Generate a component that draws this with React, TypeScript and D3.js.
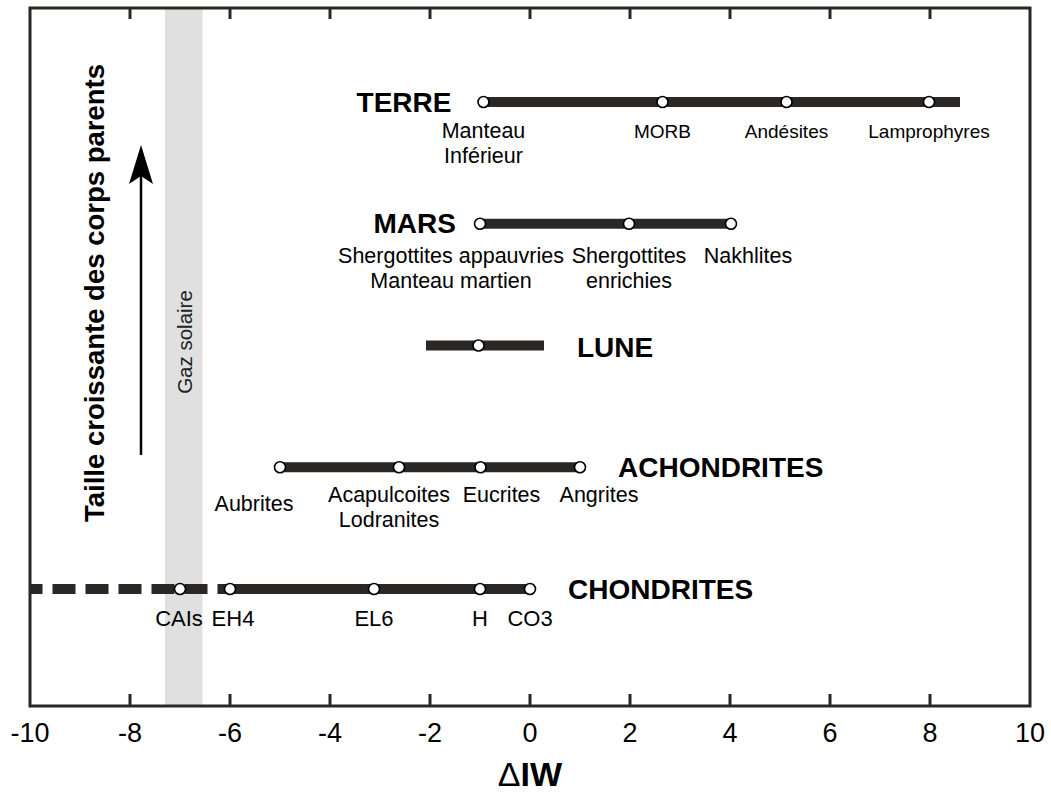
import React from "react";
import * as d3 from "d3";

// ---------- data ----------
const xTicks = [-10, -8, -6, -4, -2, 0, 2, 4, 6, 8, 10];
const xDomain = [-10, 10];
const gasBand = [-7.3, -6.55];
const levels = [5, 4, 3, 2, 1]; // parent-body size rank
const bodyNames = ["TERRE", "MARS", "LUNE", "ACHONDRITES", "CHONDRITES"];
const bodyRanges = [
  [-0.93, 8.6],
  [-1.0, 4.02],
  [-2.08, 0.28],
  [-5.0, 1.0],
  [-6.25, 0.0],
];
const terrePoints = [-0.93, 2.65, 5.13, 7.98];
const terreLabels = [["Manteau", "Inférieur"], ["MORB"], ["Andésites"], ["Lamprophyres"]];
const marsPoints = [-1.0, 1.98, 4.02];
const marsLabels = [["Shergottites appauvries", "Manteau martien"], ["Shergottites", "enrichies"], ["Nakhlites"]];
const lunePoints = [-1.03];
const luneLabels: string[][] = [[]];
const achondritePoints = [-5.0, -2.62, -0.99, 1.0];
const achondriteLabels = [["Aubrites"], ["Acapulcoites", "Lodranites"], ["Eucrites"], ["Angrites"]];
const chondritePoints = [-7.0, -6.0, -3.12, -1.0, 0.0];
const chondriteLabels = [["CAIs"], ["EH4"], ["EL6"], ["H"], ["CO3"]];
const chondriteDashedRange = [-10, -6.25];

// ---------- layout ----------
const W = 1051, H = 794;
const left = 30, right = 1030, top = 8, bottom = 706;
const FONT = "'Liberation Sans', Arial, Helvetica, sans-serif";
const INK = "#2b2725";

const pointSets = [terrePoints, marsPoints, lunePoints, achondritePoints, chondritePoints];
const labelSets = [terreLabels, marsLabels, luneLabels, achondriteLabels, chondriteLabels];
// label offsets (px) relative to point: [dx, dy]
const labelOffsets = [
  [[0, 36], [0, 36], [0, 36], [0, 36]],
  [[-29, 39], [0, 39], [17, 39]],
  [[0, 0]],
  [[-26, 44], [-10, 35], [21, 35], [19, 35]],
  [[-1, 37], [3, 37], [0, 37], [0, 37], [0, 37]],
];
const labelSizes = [
  [21.5, 19, 19, 19],
  [21.5, 21.5, 21.5],
  [21.5],
  [21.5, 21.5, 21.5, 21.5],
  [22, 22, 22, 22, 22],
];
// body name placement: anchor side and pixel offset from range end
const nameSides = ["start", "start", "end", "end", "end"];
const nameOffsets = [[-32, 10], [-24, 9], [33, 11], [38, 10], [38, 10]];

export default function App() {
  const x = d3.scaleLinear().domain(xDomain).range([left, right]);
  const y = d3.scaleLinear().domain([1, 5]).range([589, 102]);

  return (
    <svg width={W} height={H} style={{ display: "block", position: "absolute", left: 0, top: 0 }} fontFamily={FONT}>
      <rect width={W} height={H} fill="#fff" />
      {/* gas band */}
      <rect x={x(gasBand[0])} y={top} width={x(gasBand[1]) - x(gasBand[0])} height={bottom - top} fill="#e0e0e0" />
      <text
        transform={`translate(${x(gasBand[0]) + 27},342) rotate(-90)`}
        textAnchor="middle"
        fontSize={20.5}
        fill="#222"
      >
        Gaz solaire
      </text>

      {/* frame */}
      <rect x={left} y={top} width={right - left} height={bottom - top} fill="none" stroke={INK} strokeWidth={3} />
      {xTicks.slice(1, -1).map((t) => (
        <g key={t}>
          <line x1={x(t)} x2={x(t)} y1={bottom} y2={bottom - 12} stroke={INK} strokeWidth={3} />
          <line x1={x(t)} x2={x(t)} y1={top} y2={top + 11} stroke={INK} strokeWidth={3} />
        </g>
      ))}
      {xTicks.map((t) => (
        <text key={"l" + t} x={x(t)} y={742} textAnchor="middle" fontSize={27} fill="#000">
          {t}
        </text>
      ))}
      <text x={x(0)} y={786} textAnchor="middle" fontSize={34} fill="#000">
        <tspan>Δ</tspan>
        <tspan fontWeight="bold">IW</tspan>
      </text>

      {/* y label & arrow */}
      <text transform={`translate(104,293) rotate(-90)`} textAnchor="middle" fontSize={27.5} fontWeight="bold" fill="#000">
        Taille croissante des corps parents
      </text>
      <line x1={141} x2={141} y1={455} y2={175} stroke="#000" strokeWidth={2.5} />
      <path d="M141,145 L153,184 L141,176 L129,184 Z" fill="#000" />

      {/* chondrite dashed extension */}
      <line
        x1={x(chondriteDashedRange[1])}
        x2={x(chondriteDashedRange[0])}
        y1={y(levels[4])}
        y2={y(levels[4])}
        stroke={INK}
        strokeWidth={10}
        strokeDasharray="23 10"
        strokeDashoffset={23}
      />

      {bodyNames.map((name, i) => {
        const yy = y(levels[i]);
        const r = bodyRanges[i];
        const side = nameSides[i];
        const off = nameOffsets[i];
        const nx = side === "start" ? x(r[0]) + off[0] : x(r[1]) + off[0];
        return (
          <g key={name}>
            <line x1={x(r[0])} x2={x(r[1])} y1={yy} y2={yy} stroke={INK} strokeWidth={10} />
            {pointSets[i].map((p, j) => (
              <circle key={j} cx={x(p)} cy={yy} r={5.5} fill="#fff" stroke="#000" strokeWidth={1.6} />
            ))}
            <text x={nx} y={yy + off[1]} textAnchor={side === "start" ? "end" : "start"} fontSize={28} fontWeight="bold" fill="#000">
              {name}
            </text>
            {pointSets[i].map((p, j) => {
              const lines = labelSets[i][j] || [];
              const o = labelOffsets[i][j];
              return (
                <text key={"t" + j} x={x(p) + o[0]} y={yy + o[1]} textAnchor="middle" fontSize={labelSizes[i][j]} fill="#000">
                  {lines.map((ln, k) => (
                    <tspan key={k} x={x(p) + o[0]} dy={k === 0 ? 0 : 25}>
                      {ln}
                    </tspan>
                  ))}
                </text>
              );
            })}
          </g>
        );
      })}
    </svg>
  );
}
